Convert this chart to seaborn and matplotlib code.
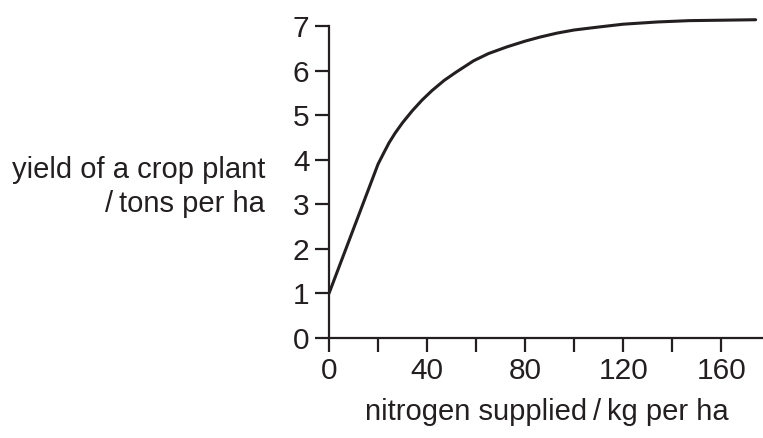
import numpy as np
import pandas as pd
import matplotlib
matplotlib.use("Agg")
import matplotlib.pyplot as plt
import seaborn as sns

# values
nitrogen = [0, 10, 20, 22.5, 24.5, 27, 30, 34, 38, 42, 47, 52, 59, 65, 72.5, 80,
            86, 93, 100, 110.5, 120, 134, 147, 161, 174]
crop_yield = [1.0, 2.45, 3.9, 4.17, 4.38, 4.6, 4.83, 5.1, 5.34, 5.55, 5.78, 5.97,
              6.22, 6.38, 6.53, 6.66, 6.75, 6.84, 6.91, 6.98, 7.04, 7.09, 7.12,
              7.13, 7.14]

x_major = [0, 40, 80, 120, 160]
x_minor = [20, 60, 100, 140]
y_ticks = [0, 1, 2, 3, 4, 5, 6, 7]

ink = '#231f20'

sns.set_style('ticks')
plt.rcParams['font.family'] = ['Liberation Sans', 'DejaVu Sans']

df = pd.DataFrame({'nitrogen': nitrogen, 'yield': crop_yield})

fig = plt.figure(figsize=(7.63, 4.38), dpi=100)
ax = fig.add_axes([329 / 763, 1 - 338 / 438, 1 - 329 / 763, (338 - 12.6) / 438])

sns.lineplot(data=df, x='nitrogen', y='yield', ax=ax, color=ink, lw=2.2,
             sort=False, estimator=None)

ax.set_xlim(0, 177)
ax.set_ylim(0, 7.3)
ax.spines['left'].set_bounds(0, 7)
ax.spines['top'].set_visible(False)
ax.spines['right'].set_visible(False)
for s in ['left', 'bottom']:
    ax.spines[s].set_linewidth(1.6)
    ax.spines[s].set_color(ink)

ax.set_xticks(x_major)
ax.set_xticks(x_minor, minor=True)
ax.set_yticks(y_ticks)
ax.tick_params(axis='both', which='both', direction='out', length=10,
               width=1.6, color=ink, labelcolor=ink, labelsize=21.5)
ax.tick_params(axis='x', which='both', pad=4)
ax.tick_params(axis='y', pad=4)

ax.set_xlabel('')
ax.set_ylabel('')

fig.text(265 / 763, 1 - 187 / 438, 'yield of a crop plant\n/\u2009tons per ha',
         ha='right', va='center', multialignment='right', fontsize=21,
         color=ink, linespacing=1.3)
fig.text(547 / 763, 1 - 412 / 438, 'nitrogen supplied\u2009/\u2009kg per ha',
         ha='center', va='center', fontsize=21, color=ink)

plt.savefig('out.png', dpi=100)
